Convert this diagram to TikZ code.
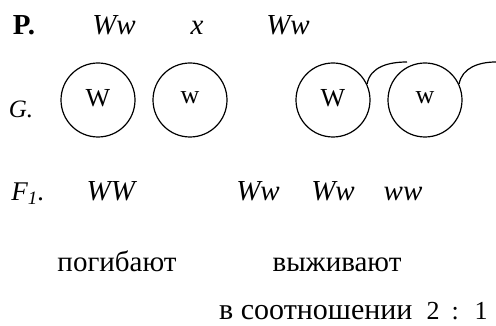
\documentclass[tikz,border=0pt]{standalone}
\usepackage{fontspec}
\setmainfont{Liberation Serif}
\tikzset{
  gamete/.style={draw, circle, line width=1.2pt, minimum size=74pt, inner sep=0pt,
    font=\fontsize{26}{30}\selectfont},
  lbl/.style={inner sep=0pt, anchor=base},
  tail/.style={line width=1.2pt}
}

\begin{document}
\begin{tikzpicture}[x=1pt,y=1pt,font=\fontsize{29}{34}\selectfont]
        \useasboundingbox (0,0) rectangle (496,326);

        % parents
        \node[lbl] (p) at (24,291) {\textbf{P.}};
        \node[lbl] (p1) at (114,291) {\textit{Ww}};
        \node[lbl] (px) at (197,291) {\textit{x}};
        \node[lbl] (p2) at (288,291) {\textit{Ww}};

        % gametes
        \node[lbl,font=\fontsize{25}{30}\selectfont] (g) at (21,208) {\textit{G.}};
        \node[gamete] (g1) at (98,226) {\raisebox{5pt}{W}};
        \node[gamete] (g2) at (190,226) {\raisebox{5pt}{w}};
        \node[gamete] (g3) at (333,226) {\raisebox{5pt}{W}};
        \node[gamete] (g4) at (425,226) {\raisebox{5pt}{w}};

        \coordinate (t3) at (407,264);
        \coordinate (t4) at (496,264);
        \draw[tail] (g3.25) to[out=80,in=180] (t3);
        \draw[tail] (g4.25) to[out=80,in=180] (t4);

        % offspring
        \node[lbl,font=\fontsize{27}{32}\selectfont] (f) at (28,125) {\textit{F\textsubscript{1}.}};
        \node[lbl] (f1) at (112,125) {\textit{WW}};
        \node[lbl] (f2) at (258,125) {\textit{Ww}};
        \node[lbl] (f3) at (333,125) {\textit{Ww}};
        \node[lbl] (f4) at (403,125) {\textit{ww}};

        \node[lbl] (dead) at (117,54) {погибают};
        \node[lbl] (alive) at (337,54) {выживают};
        \node[lbl,anchor=base west,font=\fontsize{30}{34}\selectfont] (ratio) at (219,6)
          {в соотношении\hspace{14pt}{\fontsize{26}{30}\selectfont 2\hspace{12pt}:\hspace{16pt}1}};
\end{tikzpicture}
\end{document}
